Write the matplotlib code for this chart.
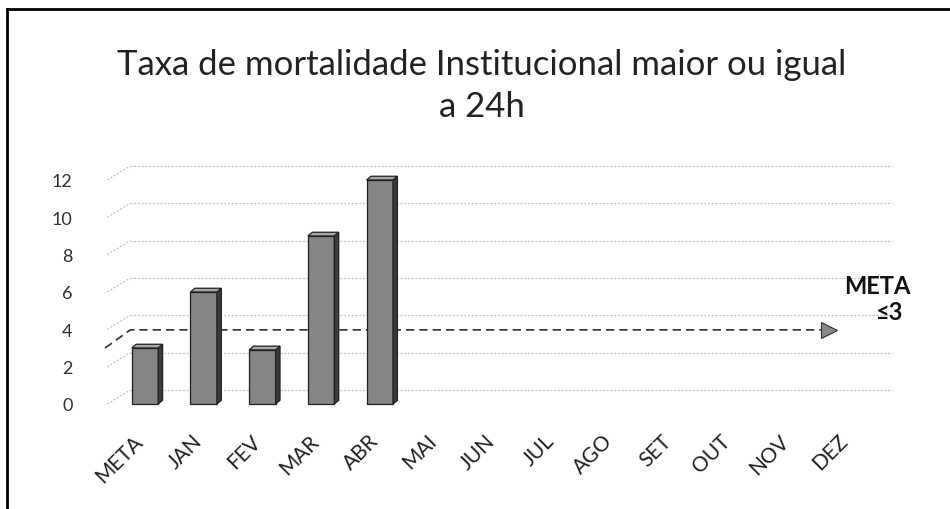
import matplotlib
matplotlib.use("Agg")
import matplotlib.pyplot as plt
from matplotlib.patches import Polygon
from matplotlib.transforms import ScaledTranslation

plt.rcParams['font.family'] = ['Lato', 'DejaVu Sans']

# ---- data ----
months = ['META', 'JAN', 'FEV', 'MAR', 'ABR', 'MAI', 'JUN', 'JUL', 'AGO', 'SET', 'OUT', 'NOV', 'DEZ']
values = [3, 6, 2.9, 9, 12]          # only META..ABR have values
yticks = [0, 2, 4, 6, 8, 10, 12]
meta_value = 3
title = 'Taxa de mortalidade Institucional maior ou igual\na 24h'
meta_text = 'META'
meta_sub = '≤3'

W, H = 950, 510
fig = plt.figure(figsize=(W / 100, H / 100), dpi=100)

# pixel mapping: x_px = 145 + 58.7*x ; y_px = 405 - 18.67*y
xpx0, xs = 145.0, 58.7
ypx0, ys = 405.0, 18.67
xlim = (-1.0, 13.0)
ylim = (-0.6, 13.0)
left = (xpx0 + xs * xlim[0]) / W
right = (xpx0 + xs * xlim[1]) / W
top_px = ypx0 - ys * ylim[1]
bot_px = ypx0 - ys * ylim[0]
ax = fig.add_axes([left, 1 - bot_px / H, right - left, (bot_px - top_px) / H])
ax.set_xlim(*xlim)
ax.set_ylim(*ylim)
for s in ax.spines.values():
    s.set_visible(False)

# 3D-like back wall offsets
gdx, gdy = 0.39, 0.75
gx_front = -0.64
gx_back = gx_front + gdx
gx_end = 12.72
grid_col = '#c0c0c0'
for v in yticks:
    ax.plot([gx_back, gx_end], [v + gdy, v + gdy], color=grid_col, lw=0.9,
            ls=(0, (1.5, 1.5)), zorder=1)
    ax.plot([gx_front, gx_back], [v, v + gdy], color=grid_col, lw=0.9,
            ls=(0, (1.5, 1.5)), zorder=1)

# bars with a slight 3D look
bw = 0.45
bdx, bdy = 0.075, 0.2
for i, v in enumerate(values):
    x0, x1 = i - bw / 2, i + bw / 2
    front = Polygon([[x0, 0], [x1, 0], [x1, v], [x0, v]], closed=True,
                    facecolor='#858585', edgecolor='#202020', lw=0.9, zorder=3)
    side = Polygon([[x1, 0], [x1 + bdx, bdy], [x1 + bdx, v + bdy], [x1, v]], closed=True,
                   facecolor='#3c3c3c', edgecolor='#202020', lw=0.9, zorder=3)
    topf = Polygon([[x0, v], [x1, v], [x1 + bdx, v + bdy], [x0 + bdx, v + bdy]], closed=True,
                   facecolor='#a8a8a8', edgecolor='#202020', lw=0.9, zorder=3)
    for p in (front, side, topf):
        ax.add_patch(p)

# y ticks
ax.set_yticks(yticks)
ax.set_yticklabels([str(t) for t in yticks], fontsize=13, color='#303030')
ax.tick_params(axis='y', length=0, pad=10)

# x ticks
ax.set_xticks(range(len(months)))
ax.set_xticklabels(months, fontsize=15, color='#202020', rotation=45,
                   ha='right', va='top', rotation_mode='anchor')
ax.tick_params(axis='x', length=0, pad=11)
off = ScaledTranslation(-12 / 100, 0, fig.dpi_scale_trans)
for lab in ax.get_xticklabels():
    lab.set_transform(lab.get_transform() + off)

# META dashed arrow (behind the bars)
arrow_y = meta_value + 0.97
ax.plot([gx_front - 0.04, gx_back, 11.55], [meta_value, arrow_y, arrow_y],
        color='#303030', lw=1.2, ls=(0, (5, 3)), zorder=2)
ax.plot([11.65], [arrow_y], marker='>', markersize=11, color='#8a8a8a',
        markeredgecolor='#303030', markeredgewidth=0.8, zorder=2)

fig.text(877 / W, 1 - 287 / H, meta_text, fontsize=17, fontweight='bold',
         ha='center', va='center', color='#111111')
fig.text(890 / W, 1 - 313 / H, meta_sub, fontsize=17, fontweight='bold',
         ha='center', va='center', color='#111111')

# title
fig.text(482 / W, 1 - 86 / H, title, fontsize=25, ha='center', va='center',
         color='#222222', linespacing=1.35)

# border (left and top edges visible)
fig.add_artist(plt.Line2D([7 / W, 7 / W], [0, 1 - 10 / H], color='black', lw=2))
fig.add_artist(plt.Line2D([7 / W, 1], [1 - 10 / H, 1 - 10 / H], color='black', lw=2))

fig.savefig('out.png', dpi=100)
